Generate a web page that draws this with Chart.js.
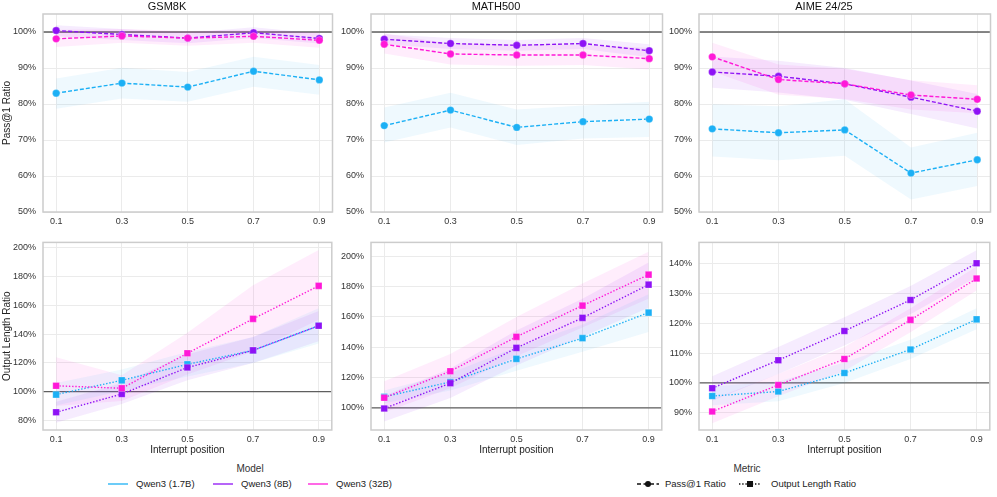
<!DOCTYPE html>
<html><head><meta charset="utf-8">
<script src="https://cdn.jsdelivr.net/npm/chart.js@4.4.1/dist/chart.umd.min.js"></script>
<style>
body{margin:0;background:#fff;width:997px;height:497px;position:relative;overflow:hidden;font-family:"Liberation Sans",Arial,sans-serif;}
canvas.pc{position:absolute;}
.lg{position:absolute;font-size:9.5px;color:#222;white-space:nowrap;line-height:12px;}
.lt{position:absolute;font-size:10px;color:#333;white-space:nowrap;line-height:12px;text-align:center;}
svg{position:absolute;}
</style></head><body>
<div id="legend"></div>
<script>
// ---------- data ----------
const positions = [0.1, 0.3, 0.5, 0.7, 0.9];
const models = ['Qwen3 (1.7B)', 'Qwen3 (8B)', 'Qwen3 (32B)'];
const benchmarks = ['GSM8K', 'MATH500', 'AIME 24/25'];
const passTicks = [50, 60, 70, 80, 90, 100];
const gsmLenTicks = [80, 100, 120, 140, 160, 180, 200];
const mathLenTicks = [100, 120, 140, 160, 180, 200];
const aimeLenTicks = [90, 100, 110, 120, 130, 140];

// Pass@1 ratio (%)
const gsmPass17 = [83.0, 85.8, 84.7, 89.1, 86.7];
const gsmPass17Lo = [78.7, 81.5, 80.6, 84.8, 82.6];
const gsmPass17Hi = [87.1, 90.1, 88.9, 93.1, 90.8];
const gsmPass8 = [100.4, 99.3, 98.3, 99.8, 98.2];
const gsmPass8Lo = [98.8, 97.8, 96.9, 98.3, 96.8];
const gsmPass8Hi = [101.9, 100.8, 99.8, 101.3, 99.6];
const gsmPass32 = [98.1, 98.9, 98.3, 98.8, 97.7];
const gsmPass32Lo = [95.8, 97.0, 96.2, 97.0, 95.6];
const gsmPass32Hi = [100.6, 100.8, 100.3, 100.6, 99.8];

const mathPass17 = [74.0, 78.3, 73.5, 75.1, 75.8];
const mathPass17Lo = [69.3, 73.5, 68.6, 70.4, 70.8];
const mathPass17Hi = [79.0, 83.1, 78.5, 79.6, 80.6];
const mathPass8 = [98.0, 96.8, 96.3, 96.8, 94.8];
const mathPass8Lo = [96.6, 95.3, 94.8, 95.3, 93.0];
const mathPass8Hi = [99.4, 98.3, 97.8, 98.3, 96.6];
const mathPass32 = [96.6, 93.9, 93.6, 93.6, 92.6];
const mathPass32Lo = [94.0, 91.0, 90.6, 90.8, 89.6];
const mathPass32Hi = [99.6, 96.8, 96.6, 96.4, 95.6];

const aimePass17 = [73.1, 72.0, 72.8, 60.8, 64.5];
const aimePass17Lo = [65.4, 64.4, 65.6, 53.5, 57.2];
const aimePass17Hi = [79.9, 79.4, 81.3, 67.9, 72.0];
const aimePass8 = [88.9, 87.7, 85.6, 81.9, 78.0];
const aimePass8Lo = [84.5, 83.2, 81.2, 77.2, 73.2];
const aimePass8Hi = [93.2, 92.0, 90.0, 86.5, 82.8];
const aimePass32 = [93.1, 86.8, 85.6, 82.5, 81.3];
const aimePass32Lo = [89.0, 82.6, 81.4, 78.5, 77.4];
const aimePass32Hi = [97.0, 91.0, 89.8, 86.6, 85.2];

// Output length ratio (%)
const gsmLen17 = [98.0, 107.9, 119.0, 128.7, 145.8];
const gsmLen17Lo = [90.5, 100.5, 110.5, 120.0, 133.5];
const gsmLen17Hi = [106.0, 115.5, 127.5, 138.0, 158.0];
const gsmLen8 = [85.7, 98.4, 116.8, 128.7, 145.8];
const gsmLen8Lo = [78.5, 91.5, 108.0, 120.0, 135.0];
const gsmLen8Hi = [93.0, 106.0, 126.0, 138.0, 156.0];
const gsmLen32 = [104.1, 102.4, 126.7, 150.6, 173.5];
const gsmLen32Lo = [90.0, 93.5, 112.0, 128.0, 150.0];
const gsmLen32Hi = [124.0, 111.5, 141.0, 174.0, 198.5];

const mathLen17 = [107.3, 117.1, 132.3, 146.0, 162.9];
const mathLen17Lo = [103.0, 111.5, 124.5, 137.0, 150.0];
const mathLen17Hi = [111.5, 123.0, 140.0, 155.0, 175.0];
const mathLen8 = [99.6, 116.3, 139.6, 159.4, 181.3];
const mathLen8Lo = [91.0, 106.5, 128.0, 147.0, 166.0];
const mathLen8Hi = [108.0, 126.0, 151.0, 172.0, 196.0];
const mathLen32 = [106.7, 124.2, 146.9, 167.5, 187.9];
const mathLen32Lo = [97.0, 113.0, 134.0, 153.0, 172.0];
const mathLen32Hi = [117.5, 135.5, 160.0, 182.0, 203.0];

const aimeLen17 = [95.6, 97.1, 103.3, 111.2, 121.3];
const aimeLen17Lo = [92.5, 93.8, 100.0, 108.0, 118.0];
const aimeLen17Hi = [98.8, 100.5, 106.8, 114.5, 125.0];
const aimeLen8 = [98.2, 107.6, 117.4, 127.8, 140.1];
const aimeLen8Lo = [94.0, 103.0, 112.5, 123.0, 135.5];
const aimeLen8Hi = [102.2, 112.0, 122.0, 132.5, 144.5];
const aimeLen32 = [90.4, 99.3, 108.0, 121.1, 135.0];
const aimeLen32Lo = [86.5, 95.5, 104.0, 117.0, 131.0];
const aimeLen32Hi = [94.5, 103.0, 112.0, 125.0, 139.0];

// ---------- styles / layout ----------
const colors = ['#1cb0f5', '#8e12f5', '#ff18d8'];
const bandColors = ['rgba(28,176,245,0.07)', 'rgba(142,18,245,0.08)', 'rgba(255,24,216,0.08)'];
const FONT = '"Liberation Sans", Arial, sans-serif';
const plotLeft = [43, 371, 699], plotRight = [334, 664, 992];
const Y_AXIS_W = 43;

const panels = [
  {row:0,col:0,title:benchmarks[0],metric:'pass',ymin:50,ymax:105,ticks:passTicks,ylabel:'Pass@1 Ratio',
   s:[[gsmPass17,gsmPass17Lo,gsmPass17Hi],[gsmPass8,gsmPass8Lo,gsmPass8Hi],[gsmPass32,gsmPass32Lo,gsmPass32Hi]]},
  {row:0,col:1,title:benchmarks[1],metric:'pass',ymin:50,ymax:105,ticks:passTicks,
   s:[[mathPass17,mathPass17Lo,mathPass17Hi],[mathPass8,mathPass8Lo,mathPass8Hi],[mathPass32,mathPass32Lo,mathPass32Hi]]},
  {row:0,col:2,title:benchmarks[2],metric:'pass',ymin:50,ymax:105,ticks:passTicks,
   s:[[aimePass17,aimePass17Lo,aimePass17Hi],[aimePass8,aimePass8Lo,aimePass8Hi],[aimePass32,aimePass32Lo,aimePass32Hi]]},
  {row:1,col:0,metric:'len',ymin:73.4,ymax:203.7,ticks:gsmLenTicks,ylabel:'Output Length Ratio',
   s:[[gsmLen17,gsmLen17Lo,gsmLen17Hi],[gsmLen8,gsmLen8Lo,gsmLen8Hi],[gsmLen32,gsmLen32Lo,gsmLen32Hi]]},
  {row:1,col:1,metric:'len',ymin:85.4,ymax:209.2,ticks:mathLenTicks,
   s:[[mathLen17,mathLen17Lo,mathLen17Hi],[mathLen8,mathLen8Lo,mathLen8Hi],[mathLen32,mathLen32Lo,mathLen32Hi]]},
  {row:1,col:2,metric:'len',ymin:84.2,ymax:147.1,ticks:aimeLenTicks,
   s:[[aimeLen17,aimeLen17Lo,aimeLen17Hi],[aimeLen8,aimeLen8Lo,aimeLen8Hi],[aimeLen32,aimeLen32Lo,aimeLen32Hi]]},
];

const xy = arr => arr.map((v, i) => ({x: positions[i], y: v}));

const framePlugin = {
  id: 'frame',
  beforeDatasetsDraw(chart) {
    const {ctx, chartArea: a, scales: {y}} = chart;
    const py = y.getPixelForValue(100);
    ctx.save();
    ctx.strokeStyle = '#5f5f5f';
    ctx.lineWidth = 1.3;
    ctx.beginPath(); ctx.moveTo(a.left, py); ctx.lineTo(a.right, py); ctx.stroke();
    ctx.restore();
  },
  afterDraw(chart) {
    const {ctx, chartArea: a} = chart;
    ctx.save();
    ctx.strokeStyle = '#cccccc';
    ctx.lineWidth = 1.5;
    ctx.strokeRect(a.left, a.top, a.right - a.left, a.bottom - a.top);
    ctx.restore();
  }
};

panels.forEach(p => {
  const L = plotLeft[p.col], R = plotRight[p.col];
  const cv = document.createElement('canvas');
  cv.className = 'pc';
  const w = R - L + Y_AXIS_W + 3;
  const top = p.row === 0 ? 0 : 230;
  const xH = p.row === 0 ? 20 : 28;
  const h = p.row === 0 ? 14 + 198 + xH : 2 + 198 + xH;
  cv.width = w; cv.height = h;
  cv.style.left = (L - Y_AXIS_W) + 'px'; cv.style.top = top + 'px';
  cv.style.width = w + 'px'; cv.style.height = h + 'px';
  document.body.appendChild(cv);

  const ds = [];
  p.s.forEach((s, i) => {
    ds.push({label: models[i] + ' lo', data: xy(s[1]), borderWidth: 0, pointRadius: 0, fill: false, order: 10});
    ds.push({label: models[i] + ' hi', data: xy(s[2]), borderWidth: 0, pointRadius: 0, fill: '-1', backgroundColor: bandColors[i], order: 10});
  });
  p.s.forEach((s, i) => {
    const isPass = p.metric === 'pass';
    ds.push({
      label: models[i], data: xy(s[0]), order: 3 - i,
      borderColor: colors[i], borderWidth: 1.4,
      borderDash: isPass ? [4, 2] : [1.4, 1.8],
      pointStyle: isPass ? 'circle' : 'rect',
      pointRadius: isPass ? 3.7 : 4.7,
      pointBackgroundColor: colors[i],
      pointBorderColor: 'rgba(255,255,255,0.5)', pointBorderWidth: 0.5,
      fill: false, tension: 0
    });
  });

  new Chart(cv, {
    type: 'line',
    data: {datasets: ds},
    plugins: [framePlugin],
    options: {
      responsive: false, animation: false, devicePixelRatio: 1,
      layout: {padding: {left: 0, right: 3, top: p.row === 0 ? 0 : 2, bottom: 0}},
      plugins: {
        legend: {display: false}, tooltip: {enabled: false},
        title: {display: p.row === 0, text: p.title || '', color: '#111',
                font: {family: FONT, size: 11, weight: 'normal'}, padding: {top: 0, bottom: 0.8}}
      },
      scales: {
        x: {
          type: 'linear', min: 0.06, max: 0.94,
          afterBuildTicks: sc => { sc.ticks = positions.map(v => ({value: v})); },
          afterFit: sc => { sc.height = xH; },
          ticks: {color: '#333', font: {family: FONT, size: 9}, padding: 4, callback: v => v.toFixed(1), maxRotation: 0},
          grid: {color: '#ebebeb', lineWidth: 1, drawTicks: false},
          border: {display: false},
          title: {display: p.row === 1, text: 'Interrupt position', color: '#222',
                  font: {family: FONT, size: 10}, padding: {top: 0, bottom: 2}}
        },
        y: {
          type: 'linear', min: p.ymin, max: p.ymax,
          afterBuildTicks: sc => { sc.ticks = p.ticks.map(v => ({value: v})); },
          afterFit: sc => { sc.width = Y_AXIS_W; },
          ticks: {color: '#333', font: {family: FONT, size: 9}, padding: 7, callback: v => v + '%'},
          grid: {color: '#ebebeb', lineWidth: 1, drawTicks: false},
          border: {display: false},
          title: {display: !!p.ylabel, text: p.ylabel || '', color: '#222',
                  font: {family: FONT, size: 10}, padding: {top: 1, bottom: 0}}
        }
      }
    }
  });
});

// ---------- legend ----------
const lg = document.getElementById('legend');
function add(html) { lg.insertAdjacentHTML('beforeend', html); }
add('<div class="lt" style="left:200px;top:463px;width:100px;">Model</div>');
const modelLegendX = [108, 213, 308];
models.forEach((m, i) => {
  const x = modelLegendX[i];
  add(`<svg style="left:${x}px;top:479px" width="20" height="10"><line x1="0" y1="5" x2="20" y2="5" stroke="${colors[i]}" stroke-width="1.3"/></svg>`);
  add(`<div class="lg" style="left:${x + 28}px;top:478px;">${m}</div>`);
});
add('<div class="lt" style="left:697px;top:463px;width:100px;">Metric</div>');
add('<svg style="left:637px;top:479px" width="22" height="10"><line x1="0" y1="5" x2="22" y2="5" stroke="#111" stroke-width="1.3" stroke-dasharray="4,2.5"/><circle cx="11" cy="5" r="3" fill="#111"/></svg>');
add('<div class="lg" style="left:665px;top:478px;">Pass@1 Ratio</div>');
add('<svg style="left:739px;top:479px" width="22" height="10"><line x1="0" y1="5" x2="22" y2="5" stroke="#111" stroke-width="1.3" stroke-dasharray="1.4,1.8"/><rect x="8" y="2" width="6" height="6" fill="#111"/></svg>');
add('<div class="lg" style="left:771px;top:478px;">Output Length Ratio</div>');
</script>
</body></html>
